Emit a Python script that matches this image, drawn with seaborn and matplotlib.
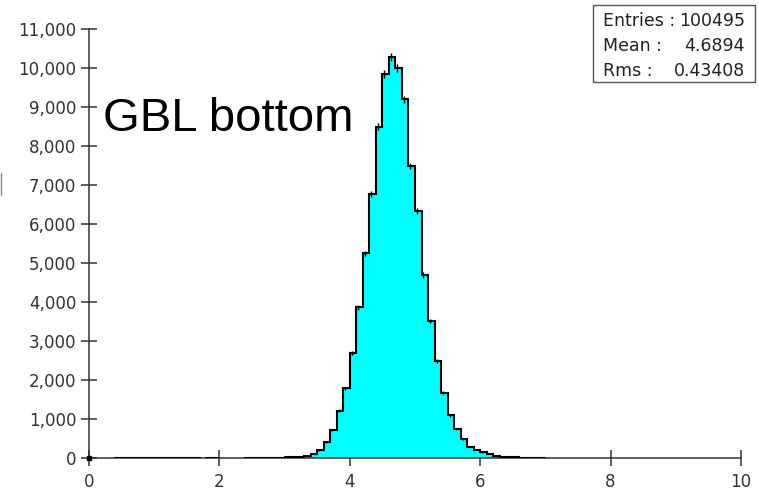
import numpy as np
import pandas as pd
import matplotlib
matplotlib.use("Agg")
import matplotlib.pyplot as plt
from matplotlib.patches import Rectangle
from matplotlib.lines import Line2D
from matplotlib.ticker import FuncFormatter, MultipleLocator
import seaborn as sns

# Histogram contents: 100 bins of width 0.1 on [0, 10]
bin_edges = [round(0.1 * k, 3) for k in range(101)]
counts = [
    0, 0, 0, 0, 3, 2, 4, 3, 5, 4,
    3, 4, 6, 5, 4, 6, 5, 0, 6, 7,
    0, 0, 0, 0, 6, 8, 7, 9, 10, 12,
    14, 18, 24, 51, 103, 205, 400, 718, 1213, 1785,
    2692, 3870, 5250, 6769, 8500, 9850, 10300, 10000, 9205, 7495,
    6330, 4700, 3520, 2495, 1675, 1095, 740, 487, 290, 215,
    144, 100, 60, 32, 22, 16, 12, 9, 7, 5,
    0, 0, 0, 0, 0, 0, 0, 0, 0, 0,
    0, 0, 0, 0, 0, 0, 0, 0, 0, 0,
    0, 0, 0, 0, 0, 0, 0, 0, 0, 0,
]
x_ticks = [0, 2, 4, 6, 8, 10]
title_text = "GBL bottom"
stat_labels = ["Entries :", "Mean :", "Rms :"]
stat_values = ["100495", "4.6894", "0.43408"]

W, H = 759, 492
sns.set_style("white")
plt.rcParams["font.family"] = ["DejaVu Sans"]

fig = plt.figure(figsize=(W / 100, H / 100), dpi=100)
ax = fig.add_axes([89 / W, (H - 458) / H, 652 / W, (458 - 29.3) / H])

edges = np.asarray(bin_edges)
df = pd.DataFrame({
    "x": (edges[:-1] + edges[1:]) / 2,
    "n": counts,
})

# Cyan filled bins
sns.histplot(data=df, x="x", weights="n", bins=bin_edges, stat="count",
             element="bars", fill=True, color="#00ffff", alpha=1.0,
             linewidth=0, ax=ax, zorder=2)

# Step outline, drawn only over runs of non-empty bins
c = np.asarray(counts, dtype=float)
nz = c > 0
i = 0
while i < len(c):
    if nz[i]:
        j = i
        while j < len(c) and nz[j]:
            j += 1
        xs = [edges[i]]
        ys = [0.0]
        for k in range(i, j):
            xs += [edges[k], edges[k + 1]]
            ys += [c[k], c[k]]
        xs.append(edges[j])
        ys.append(0.0)
        ax.plot(xs, ys, color="black", lw=1.5, zorder=4, solid_joinstyle="miter")
        i = j
    else:
        i += 1

# Statistical error bars (sqrt N)
width = edges[1:] - edges[:-1]
ex = edges[:-1] + 0.3 * width
sel = c > 0
ax.errorbar(ex[sel], c[sel], yerr=np.sqrt(c[sel]), fmt="none",
            ecolor="black", elinewidth=1.0, capsize=0, zorder=5)

ax.plot([0], [0], marker="s", ms=3, color="black", clip_on=False, zorder=6)

ax.set_xlim(0, 10)
ax.set_ylim(0, 11000)
ax.set_xticks(x_ticks)
ax.set_xticklabels([str(t) for t in x_ticks])
ax.yaxis.set_major_locator(MultipleLocator(1000))
ax.yaxis.set_major_formatter(FuncFormatter(lambda v, p: f"{int(v):,}"))
ax.set_xlabel("")
ax.set_ylabel("")

for s in ["top", "right"]:
    ax.spines[s].set_visible(False)
for s in ["left", "bottom"]:
    ax.spines[s].set_color("#333333")
    ax.spines[s].set_linewidth(1.1)
    ax.spines[s].set_zorder(3)

ax.tick_params(axis="both", which="major", bottom=True, left=True,
               direction="inout", length=12, width=1.1,
               color="#333333", labelcolor="#333333", labelsize=12)
ax.tick_params(axis="y", pad=3)
ax.tick_params(axis="x", pad=5)
ax.set_facecolor("white")


def fx(px):
    return px / W


def fy(py):
    return 1 - py / H


fig.text(fx(103), fy(131), title_text, fontsize=34, family="Liberation Sans",
         color="black", ha="left", va="baseline")

# Statistics box
fig.add_artist(Rectangle((fx(593), fy(82)), fx(755) - fx(593), fy(5) - fy(82),
                         transform=fig.transFigure, facecolor="white",
                         edgecolor="#555555", lw=1.0, zorder=10))
for r, (lab, val) in enumerate(zip(stat_labels, stat_values)):
    yc = 21 + 25 * r
    fig.text(fx(603), fy(yc), lab, fontsize=12.5, color="#222222",
             ha="left", va="center", zorder=11)
    fig.text(fx(745), fy(yc), val, fontsize=12.5, color="#222222",
             ha="right", va="center", zorder=11)

# Partially visible axis caption at the left margin
fig.add_artist(Line2D([fx(0.5), fx(0.5)], [fy(195), fy(173)],
                      transform=fig.transFigure, color="#888888", lw=1.0))

fig.savefig("out.png", dpi=100)
